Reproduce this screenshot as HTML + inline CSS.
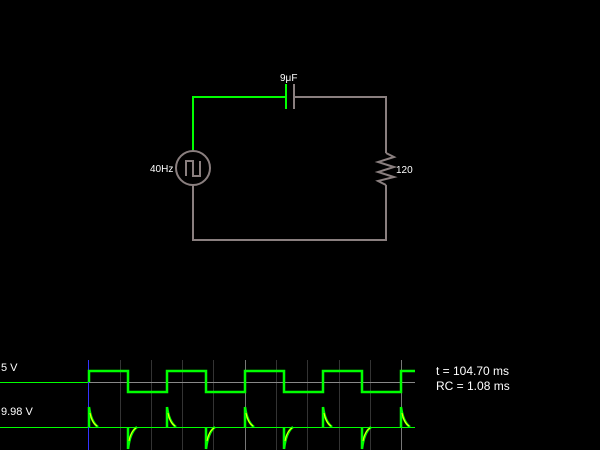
<!DOCTYPE html>
<html><head><style>
html,body{margin:0;padding:0;background:#000;width:600px;height:450px;overflow:hidden}
svg{display:block}
text{font-family:"Liberation Sans",sans-serif;fill:#fff}
</style></head><body>
<svg width="600" height="450" viewBox="0 0 600 450">
<defs>
<g id="up"><path d="M0,427 V407 Q2,422 9,427" fill="none" stroke="#0f0" stroke-width="2.5"/><path d="M1,413 Q3,423 8,426" fill="none" stroke="#ff0" stroke-width="1"/></g>
<g id="dn"><path d="M0,427 V449 Q2,432 9,427" fill="none" stroke="#0f0" stroke-width="2.5"/><path d="M1,441 Q3,431 8,428" fill="none" stroke="#ff0" stroke-width="1"/></g>
</defs>
<!-- circuit -->
<path d="M193,150 V97 H286" fill="none" stroke="#0f0" stroke-width="2"/>
<line x1="286" y1="84" x2="286" y2="109" stroke="#0f0" stroke-width="2"/>
<line x1="294" y1="84" x2="294" y2="109" stroke="#8a7f7f" stroke-width="2"/>
<path d="M294,97 H386 V153 M386,185 V240 H193 V185" fill="none" stroke="#8a7f7f" stroke-width="2"/>
<circle cx="193" cy="168" r="17" fill="none" stroke="#8a7f7f" stroke-width="2"/>
<path d="M186,176 V161 H193 V176 H200 V161" fill="none" stroke="#8a7f7f" stroke-width="2"/>
<path d="M386,153 L394,157 L378,162 L394,167 L378,172 L394,177 L378,181 L386,185" fill="none" stroke="#8a7f7f" stroke-width="2"/>
<text x="280" y="81" font-size="10">9μF</text>
<text x="150" y="172" font-size="10">40Hz</text>
<text x="396" y="173" font-size="10">120</text>
<!-- scope grid -->
<g stroke="#333" stroke-width="1">
<line x1="120.5" y1="360" x2="120.5" y2="450"/><line x1="151.5" y1="360" x2="151.5" y2="450"/>
<line x1="182.5" y1="360" x2="182.5" y2="450"/><line x1="213.5" y1="360" x2="213.5" y2="450"/>
<line x1="276.5" y1="360" x2="276.5" y2="450"/><line x1="307.5" y1="360" x2="307.5" y2="450"/>
<line x1="339.5" y1="360" x2="339.5" y2="450"/><line x1="370.5" y1="360" x2="370.5" y2="450"/>
</g>
<line x1="245.5" y1="360" x2="245.5" y2="450" stroke="#777"/>
<line x1="401.5" y1="360" x2="401.5" y2="450" stroke="#777"/>
<line x1="89" y1="382.5" x2="415" y2="382.5" stroke="#888"/>
<line x1="0" y1="382.5" x2="89" y2="382.5" stroke="#0f0"/>
<line x1="0" y1="427.5" x2="415" y2="427.5" stroke="#0f0"/>
<line x1="88.5" y1="360" x2="88.5" y2="450" stroke="#33f"/>
<path d="M89,382 V371 H128 V392 H167 V371 H206 V392 H245 V371 H284 V392 H323 V371 H362 V392 H401 V371 H415" fill="none" stroke="#0f0" stroke-width="2.5"/>
<use href="#up" x="89"/><use href="#dn" x="128"/>
<use href="#up" x="167"/><use href="#dn" x="206"/>
<use href="#up" x="245"/><use href="#dn" x="284"/>
<use href="#up" x="323"/><use href="#dn" x="362"/>
<use href="#up" x="401"/>
<text x="1" y="371" font-size="11">5 V</text>
<text x="1" y="415" font-size="11">9.98 V</text>
<text x="436" y="375" font-size="12">t = 104.70 ms</text>
<text x="436" y="390" font-size="12">RC = 1.08 ms</text>
</svg>
</body></html>
